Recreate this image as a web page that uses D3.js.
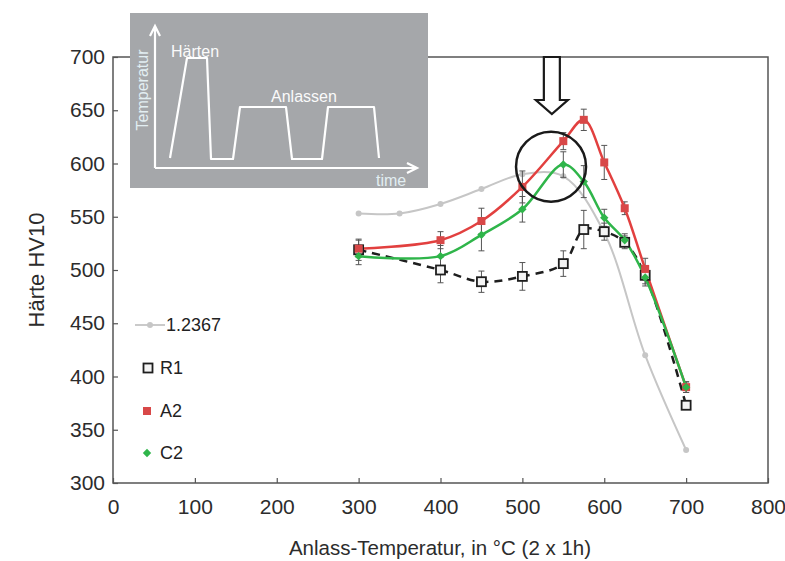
<!DOCTYPE html>
<html>
<head>
<meta charset="utf-8">
<script src="https://cdn.jsdelivr.net/npm/d3@7"></script>
<style>
  body { margin: 0; background: #fff; }
  text { font-family: "Liberation Sans", Arial, sans-serif; }
</style>
</head>
<body>
<div id="chart"></div>
<script>
// Data
const xTicks = [0, 100, 200, 300, 400, 500, 600, 700, 800];
const yTicks = [300, 350, 400, 450, 500, 550, 600, 650, 700];

const tempsGray = [300, 350, 400, 450, 500, 550, 600, 650, 700];
const hardGray = [553, 553, 562, 576, 590, 588, 535, 420, 331];

const temps = [300, 400, 450, 500, 550, 575, 600, 625, 650, 700];
const hardR1 = [519, 500, 489, 494, 506, 538, 536, 526, 495, 373];
const errR1 = [10, 12, 10, 13, 12, 18, 8, 6, 8, 4];
const hardA2 = [520, 528, 546, 578, 621, 641, 601, 558, 501, 390];
const errA2 = [8, 8, 12, 15, 8, 10, 16, 6, 10, 5];
const hardC2 = [513, 513, 533, 557, 599, 583, 549, 528, 493, 390];
const errC2 = [8, 10, 15, 12, 12, 15, 8, 6, 8, 5];

const legendNames = ["1.2367", "R1", "A2", "C2"];

const width = 785, height = 561;
const svg = d3.select("#chart").append("svg")
    .attr("width", width)
    .attr("height", height);

const x = d3.scaleLinear().domain([0, 800]).range([113, 768]);
const y = d3.scaleLinear().domain([300, 700]).range([483, 57]);

// frame
svg.append("rect")
    .attr("x", x(0)).attr("y", y(700))
    .attr("width", x(800) - x(0)).attr("height", y(300) - y(700))
    .attr("fill", "none")
    .attr("stroke", "#555")
    .attr("stroke-width", 1.5);

// axes with inward ticks
const xAxis = svg.append("g")
    .attr("transform", `translate(0, ${y(300)})`)
    .call(d3.axisBottom(x).tickValues(xTicks).tickSize(-5).tickPadding(14));
const yAxis = svg.append("g")
    .attr("transform", `translate(${x(0)}, 0)`)
    .call(d3.axisLeft(y).tickValues(yTicks).tickSize(-5).tickPadding(8));
[xAxis, yAxis].forEach(g => {
    g.select(".domain").remove();
    g.selectAll("line").attr("stroke", "#555").attr("stroke-width", 1.2);
    g.selectAll("text")
        .attr("fill", "#2c2c2c")
        .style("font-size", "21px");
});
xAxis.selectAll("text").attr("dy", "0.8em");

// axis titles
svg.append("text")
    .attr("x", 440).attr("y", 555)
    .attr("text-anchor", "middle")
    .attr("fill", "#2c2c2c")
    .style("font-size", "20.5px")
    .text("Anlass-Temperatur, in °C (2 x 1h)");
svg.append("text")
    .attr("transform", "translate(44, 270) rotate(-90)")
    .attr("text-anchor", "middle")
    .attr("fill", "#2c2c2c")
    .style("font-size", "22px")
    .text("Härte HV10");

const line = d3.line()
    .x(d => x(d[0]))
    .y(d => y(d[1]))
    .curve(d3.curveCatmullRom.alpha(0.5));

function errorBars(vals, errs) {
    const g = svg.append("g").attr("stroke", "#555").attr("stroke-width", 1);
    temps.forEach((t, i) => {
        const cx = x(t), y0 = y(vals[i] - errs[i]), y1 = y(vals[i] + errs[i]);
        g.append("line").attr("x1", cx).attr("x2", cx).attr("y1", y0).attr("y2", y1);
        g.append("line").attr("x1", cx - 3).attr("x2", cx + 3).attr("y1", y0).attr("y2", y0);
        g.append("line").attr("x1", cx - 3).attr("x2", cx + 3).attr("y1", y1).attr("y2", y1);
    });
}

// gray reference steel
svg.append("path")
    .datum(d3.zip(tempsGray, hardGray))
    .attr("d", line)
    .attr("fill", "none")
    .attr("stroke", "#c6c6c6")
    .attr("stroke-width", 2);
svg.append("g").selectAll("circle")
    .data(d3.zip(tempsGray, hardGray))
    .join("circle")
    .attr("cx", d => x(d[0])).attr("cy", d => y(d[1]))
    .attr("r", 3)
    .attr("fill", "#c6c6c6");

// R1 dashed
errorBars(hardR1, errR1);
svg.append("path")
    .datum(d3.zip(temps, hardR1))
    .attr("d", line)
    .attr("fill", "none")
    .attr("stroke", "#1e1e1e")
    .attr("stroke-width", 2.5)
    .attr("stroke-dasharray", "8,6");

// A2 red
errorBars(hardA2, errA2);
svg.append("path")
    .datum(d3.zip(temps, hardA2))
    .attr("d", line)
    .attr("fill", "none")
    .attr("stroke", "#e2403f")
    .attr("stroke-width", 2.5);

// C2 green
errorBars(hardC2, errC2);
svg.append("path")
    .datum(d3.zip(temps, hardC2))
    .attr("d", line)
    .attr("fill", "none")
    .attr("stroke", "#2fb54a")
    .attr("stroke-width", 2.5);

// markers
svg.append("g").selectAll("rect")
    .data(d3.zip(temps, hardR1))
    .join("rect")
    .attr("x", d => x(d[0]) - 4.5).attr("y", d => y(d[1]) - 4.5)
    .attr("width", 9).attr("height", 9)
    .attr("fill", "#f4f4f4")
    .attr("stroke", "#1e1e1e")
    .attr("stroke-width", 1.8);
svg.append("g").selectAll("rect")
    .data(d3.zip(temps, hardA2))
    .join("rect")
    .attr("x", d => x(d[0]) - 4).attr("y", d => y(d[1]) - 4)
    .attr("width", 8).attr("height", 8)
    .attr("fill", "#d84848");
svg.append("g").selectAll("path")
    .data(d3.zip(temps, hardC2))
    .join("path")
    .attr("d", d3.symbol(d3.symbolDiamond2, 45))
    .attr("transform", d => `translate(${x(d[0])}, ${y(d[1])})`)
    .attr("fill", "#2fb54a");

// legend
const legendY = [325, 368, 411, 453];
const lg = svg.append("g");
lg.append("line")
    .attr("x1", 135).attr("x2", 165)
    .attr("y1", legendY[0]).attr("y2", legendY[0])
    .attr("stroke", "#b8b8b8").attr("stroke-width", 1.5);
lg.append("circle").attr("cx", 150).attr("cy", legendY[0]).attr("r", 3).attr("fill", "#c6c6c6");
lg.append("rect").attr("x", 143.5).attr("y", legendY[1] - 4.5).attr("width", 9).attr("height", 9)
    .attr("fill", "#f4f4f4").attr("stroke", "#1e1e1e").attr("stroke-width", 1.8);
lg.append("rect").attr("x", 143).attr("y", legendY[2] - 4).attr("width", 8).attr("height", 8)
    .attr("fill", "#d84848");
lg.append("path").attr("d", d3.symbol(d3.symbolDiamond2, 45))
    .attr("transform", `translate(147, ${legendY[3]})`).attr("fill", "#2fb54a");
lg.selectAll("text")
    .data(legendNames)
    .join("text")
    .attr("x", (d, i) => i === 0 ? 166 : 160)
    .attr("y", (d, i) => legendY[i])
    .attr("dy", "0.36em")
    .attr("fill", "#222")
    .style("font-size", "18px")
    .text(d => d);

// highlight circle and hollow arrow
svg.append("circle")
    .attr("cx", x(535)).attr("cy", y(597))
    .attr("r", 35)
    .attr("fill", "none")
    .attr("stroke", "#1a1a1a")
    .attr("stroke-width", 2.5);
const ax = x(536);
svg.append("path")
    .attr("d", `M${ax - 8},57 L${ax + 8},57 L${ax + 8},100 L${ax + 16},100 L${ax},114 L${ax - 16},100 L${ax - 8},100 Z`)
    .attr("fill", "#fff")
    .attr("stroke", "#1a1a1a")
    .attr("stroke-width", 2.2)
    .attr("stroke-linejoin", "miter");

// inset: heat treatment sketch
const inset = svg.append("g");
inset.append("rect")
    .attr("x", 130).attr("y", 13).attr("width", 298).attr("height", 175)
    .attr("fill", "#a5a7aa");
const ins = inset.append("g").attr("stroke", "#fff").attr("stroke-width", 2.2).attr("fill", "none");
ins.append("path").attr("d", "M155,168 L155,27 M150,36 L155,26 L160,36");
ins.append("path").attr("d", "M155,168 L416,168 M407,163 L417,168 L407,173");
ins.append("path")
    .attr("d", "M170,158 L187,58 L207,58 L211,159 L233,159 L240,107 L286,107 L292,159 L322,159 L328,107 L374,107 L379,158")
    .attr("stroke-linejoin", "round");
inset.append("text")
    .attr("transform", "translate(148, 90) rotate(-90)")
    .attr("text-anchor", "middle")
    .attr("fill", "#e2eef2")
    .style("font-size", "16px")
    .text("Temperatur");
inset.append("text")
    .attr("x", 171).attr("y", 57)
    .attr("fill", "#fafafa")
    .style("font-size", "16px")
    .text("Härten");
inset.append("text")
    .attr("x", 271).attr("y", 102)
    .attr("fill", "#fafafa")
    .style("font-size", "16px")
    .text("Anlassen");
inset.append("text")
    .attr("x", 376).attr("y", 186)
    .attr("fill", "#e2eef2")
    .style("font-size", "16px")
    .text("time");
</script>
</body>
</html>
